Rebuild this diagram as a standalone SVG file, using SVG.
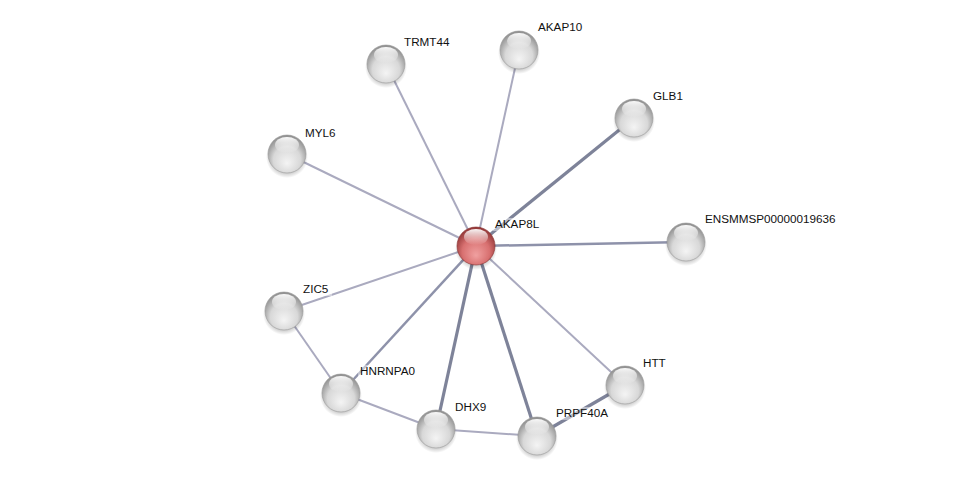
<svg xmlns="http://www.w3.org/2000/svg" width="976" height="481" viewBox="0 0 976 481">
<style>
.e{stroke:#aaaabf;stroke-width:2;fill:none}
.m{stroke:#8e92aa;stroke-width:2.5;fill:none}
.d{stroke:#7e8399;stroke-width:3.2;fill:none}
.lbl{font-family:"Liberation Sans",Arial,sans-serif;font-size:11.7px;fill:#111}
.bg{fill:#ffffff;fill-opacity:0.45}
</style>
<defs>
<radialGradient id="g" cx="50%" cy="60%" r="60%" fx="50%" fy="75%">
<stop offset="0" stop-color="#f4f4f4"/>
<stop offset="0.6" stop-color="#d8d8d8"/>
<stop offset="1" stop-color="#8a8a8a"/>
</radialGradient>
<radialGradient id="r" cx="50%" cy="60%" r="60%" fx="50%" fy="75%">
<stop offset="0" stop-color="#f0a0a0"/>
<stop offset="0.6" stop-color="#d87070"/>
<stop offset="1" stop-color="#8e3434"/>
</radialGradient>
<linearGradient id="h" x1="0" y1="0" x2="0" y2="1">
<stop offset="0" stop-color="#fff" stop-opacity="0.95"/>
<stop offset="1" stop-color="#fff" stop-opacity="0"/>
</linearGradient>
<radialGradient id="s" cx="50%" cy="50%" r="50%">
<stop offset="0.7" stop-color="#000" stop-opacity="0.25"/>
<stop offset="1" stop-color="#000" stop-opacity="0"/>
</radialGradient>
<g id="ball">
<circle cx="0" cy="3" r="21" fill="url(#s)"/>
<circle cx="0" cy="0" r="19" fill="url(#g)" stroke="#9a9a9a" stroke-width="0.6"/>
<ellipse cx="0" cy="-9" rx="12" ry="8" fill="url(#h)"/>
</g>
</defs>
<rect width="976" height="481" fill="#ffffff"/>
<g id="edges">
<line class="e" x1="476" y1="246" x2="386" y2="64"/>
<line class="e" x1="476" y1="246" x2="519" y2="50"/>
<line class="d" x1="476" y1="246" x2="634" y2="118"/>
<line class="e" x1="476" y1="246" x2="287" y2="154"/>
<line class="m" x1="476" y1="246" x2="686" y2="242"/>
<line class="e" x1="476" y1="246" x2="284" y2="311"/>
<line class="m" x1="476" y1="246" x2="341" y2="393"/>
<line class="d" x1="476" y1="246" x2="436" y2="429"/>
<line class="d" x1="476" y1="246" x2="537" y2="436"/>
<line class="e" x1="476" y1="246" x2="625" y2="385"/>
<line class="e" x1="284" y1="311" x2="341" y2="393"/>
<line class="e" x1="341" y1="393" x2="436" y2="429"/>
<line class="e" x1="436" y1="429" x2="537" y2="436"/>
<line class="d" x1="537" y1="436" x2="625" y2="385"/>
</g>
<g id="n-TRMT44"><use href="#ball" x="386" y="64"/><rect class="bg" x="402" y="36" width="52" height="13"/><text class="lbl" x="404" y="46">TRMT44</text></g>
<g id="n-AKAP10"><use href="#ball" x="519" y="50"/><rect class="bg" x="536" y="21" width="52" height="13"/><text class="lbl" x="538" y="31">AKAP10</text></g>
<g id="n-GLB1"><use href="#ball" x="634" y="118"/><rect class="bg" x="651" y="90" width="36" height="13"/><text class="lbl" x="653" y="100">GLB1</text></g>
<g id="n-MYL6"><use href="#ball" x="287" y="154"/><rect class="bg" x="303" y="127" width="37" height="13"/><text class="lbl" x="305" y="137">MYL6</text></g>
<g id="n-ENSMMSP00000019636"><use href="#ball" x="686" y="242"/><rect class="bg" x="703" y="213" width="136" height="13"/><text class="lbl" x="705" y="223">ENSMMSP00000019636</text></g>
<g id="n-ZIC5"><use href="#ball" x="284" y="311"/><rect class="bg" x="301" y="283" width="31" height="13"/><text class="lbl" x="303" y="293">ZIC5</text></g>
<g id="n-HNRNPA0"><use href="#ball" x="341" y="393"/><rect class="bg" x="358" y="365" width="62" height="13"/><text class="lbl" x="360" y="375">HNRNPA0</text></g>
<g id="n-DHX9"><use href="#ball" x="436" y="429"/><rect class="bg" x="453" y="401" width="37" height="13"/><text class="lbl" x="455" y="411">DHX9</text></g>
<g id="n-PRPF40A"><use href="#ball" x="537" y="436"/><rect class="bg" x="554" y="407" width="60" height="13"/><text class="lbl" x="556" y="417">PRPF40A</text></g>
<g id="n-HTT"><use href="#ball" x="625" y="385"/><rect class="bg" x="641" y="357" width="28" height="13"/><text class="lbl" x="643" y="367">HTT</text></g>
<g id="n-AKAP8L">
<circle cx="476" cy="249" r="21" fill="url(#s)"/>
<circle cx="476" cy="246" r="19" fill="url(#r)" stroke="#8a3030" stroke-width="0.6"/>
<ellipse cx="476" cy="237" rx="12" ry="8" fill="url(#h)"/>
<rect class="bg" x="493" y="218" width="51" height="13"/><text class="lbl" x="495" y="228">AKAP8L</text>
</g>
</svg>
